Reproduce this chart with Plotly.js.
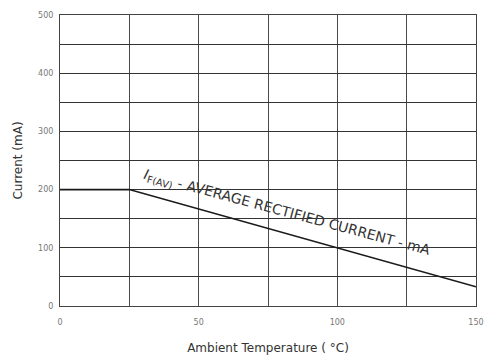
<!DOCTYPE html>
<html>
<head>
<meta charset="utf-8">
<script src="https://cdn.plot.ly/plotly-3.0.1.min.js"></script>
<style>
  html, body { margin: 0; padding: 0; background: #ffffff; }
  #chart { width: 486px; height: 357px; }
</style>
</head>
<body>
<div id="chart"></div>
<script>
// Derating curve: average rectified current vs ambient temperature
const temperature = [0, 25, 150];
const current = [200, 200, 33];

const xTickVals = [0, 25, 50, 75, 100, 125, 150];
const xTickText = ['0', '', '50', '', '100', '', '150'];
const yTickVals = [0, 50, 100, 150, 200, 250, 300, 350, 400, 450, 500];
const yTickText = ['0', '', '100', '', '200', '', '300', '', '400', '', '500'];

const curveLabel = '<i>I</i><sub>F(AV)</sub> - AVERAGE RECTIFIED CURRENT - mA';

const fontFamily = 'DejaVu Sans, Verdana, sans-serif';

const trace = {
  x: temperature,
  y: current,
  type: 'scatter',
  mode: 'lines',
  line: { color: '#1a1a1a', width: 1.6 },
  hoverinfo: 'skip',
  showlegend: false
};

const layout = {
  width: 486,
  height: 357,
  margin: { l: 60, r: 10, t: 15, b: 51 },
  paper_bgcolor: '#ffffff',
  plot_bgcolor: '#ffffff',
  font: { family: fontFamily, color: '#333333' },
  xaxis: {
    range: [0, 150],
    tickmode: 'array',
    tickvals: xTickVals,
    ticktext: xTickText,
    showgrid: true,
    gridcolor: '#4a4a4a',
    gridwidth: 1,
    zeroline: false,
    showline: true,
    linecolor: '#444444',
    linewidth: 1,
    mirror: true,
    ticks: '',
    ticklabelstandoff: 8,
    tickfont: { size: 8, color: '#777777', family: fontFamily },
    title: {
      text: 'Ambient Temperature ( \u00B0C)',
      font: { size: 12, color: '#333333', family: fontFamily },
      standoff: 18
    }
  },
  yaxis: {
    range: [0, 500],
    tickmode: 'array',
    tickvals: yTickVals,
    ticktext: yTickText,
    showgrid: true,
    gridcolor: '#333333',
    gridwidth: 1,
    zeroline: false,
    showline: true,
    linecolor: '#444444',
    linewidth: 1,
    mirror: true,
    ticks: '',
    ticklabelstandoff: 4,
    tickfont: { size: 8, color: '#777777', family: fontFamily },
    title: {
      text: 'Current (mA)',
      font: { size: 12, color: '#333333', family: fontFamily },
      standoff: 12
    }
  },
  annotations: [{
    x: 82,
    y: 160,
    xref: 'x',
    yref: 'y',
    text: curveLabel,
    showarrow: false,
    textangle: 15,
    xanchor: 'center',
    yanchor: 'middle',
    font: { size: 14, color: '#333333', family: fontFamily }
  }]
};

Plotly.newPlot('chart', [trace], layout, { displayModeBar: false, staticPlot: true });
</script>
</body>
</html>
